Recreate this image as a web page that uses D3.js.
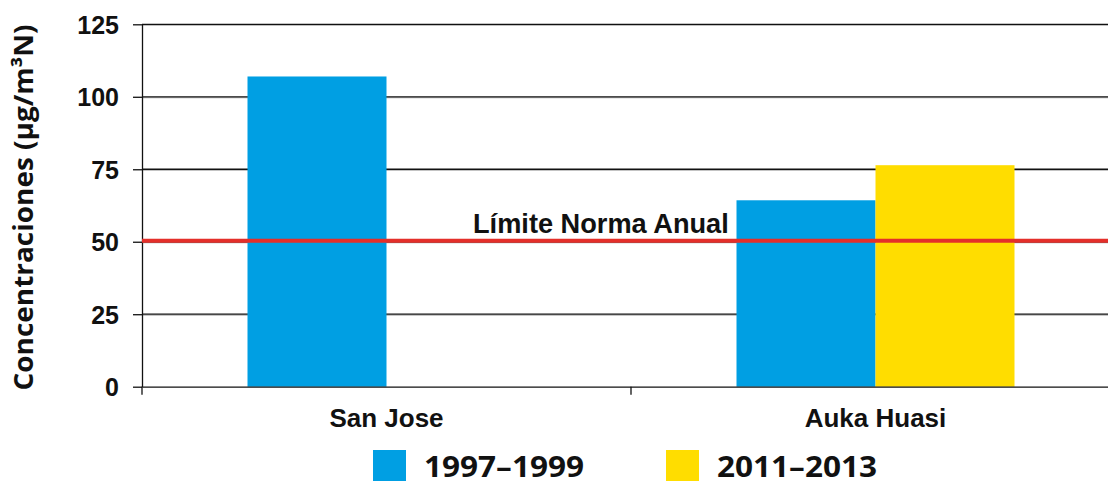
<!DOCTYPE html>
<html>
<head>
<meta charset="utf-8">
<script src="https://cdn.jsdelivr.net/npm/d3@7"></script>
<style>
  body { margin: 0; background: #fff; }
  svg { display: block; }
</style>
</head>
<body>
<svg id="chart" width="1108" height="481"></svg>
<script>
// datos
const categories = ['San Jose', 'Auka Huasi'];
const seriesNames = ['1997–1999', '2011–2013'];
const seriesColors = ['#009fe3', '#ffdd00'];
const values1997 = [107, 64.3];
const values2011 = [null, 76.4];
const yTicks = [0, 25, 50, 75, 100, 125];
const normaAnual = 50;

const width = 1108, height = 481;
const margin = { left: 142, top: 24.3, bottom: 94.3 };
const plotRight = 1120;   // el gráfico continúa fuera del recorte
const arial = '"Liberation Sans", Arial, sans-serif';
const sans = '"Open Sans", Lato, sans-serif';

const svg = d3.select('#chart');

const y = d3.scaleLinear()
  .domain([0, 125])
  .range([height - margin.bottom, margin.top]);

const x = d3.scaleBand()
  .domain(categories)
  .range([margin.left, plotRight])
  .padding(0);

const xs = d3.scaleBand()
  .domain(seriesNames)
  .range([0, x.bandwidth()])
  .paddingInner(0)
  .paddingOuter(0.759);

/************** rejilla ***************/
const grid = svg.append('g');
yTicks.filter(d => d > 0).forEach(d => {
  grid.append('line')
    .attr('x1', margin.left).attr('x2', width)
    .attr('y1', y(d) + 1).attr('y2', y(d) + 1)
    .attr('stroke', '#b0b0b0').attr('stroke-width', 1);
  grid.append('line')
    .attr('x1', margin.left).attr('x2', width)
    .attr('y1', y(d)).attr('y2', y(d))
    .attr('stroke', '#111').attr('stroke-width', 1.3);
});

/************** barras ***************/
const rows = categories.map((c, i) => ({ cat: c, vals: [values1997[i], values2011[i]] }));
const groups = svg.selectAll('g.cat')
  .data(rows)
  .enter().append('g')
  .attr('class', 'cat')
  .attr('transform', d => `translate(${x(d.cat)},0)`);

groups.selectAll('rect')
  .data(d => d.vals.map((v, j) => ({ v: v, s: seriesNames[j], color: seriesColors[j] })).filter(e => e.v != null))
  .enter().append('rect')
  .attr('x', d => xs(d.s))
  .attr('width', xs.bandwidth())
  .attr('y', d => y(d.v))
  .attr('height', d => y(0) - y(d.v))
  .attr('fill', d => d.color);

/************** ejes ***************/
const yAxis = svg.append('g')
  .attr('transform', `translate(${margin.left},0)`)
  .call(d3.axisLeft(y).tickValues(yTicks).tickSize(9).tickPadding(0).tickSizeOuter(0));
yAxis.select('.domain').attr('stroke', '#111').attr('stroke-width', 1.3);
yAxis.selectAll('.tick line').attr('stroke', '#111').attr('stroke-width', 1.3);
yAxis.selectAll('.tick text')
  .attr('x', -23)
  .attr('dy', '0.36em')
  .style('font-family', arial)
  .style('font-weight', 'bold')
  .style('font-size', '25px')
  .attr('fill', '#111');

const xAxis = svg.append('g')
  .attr('transform', `translate(0,${y(0)})`)
  .call(d3.axisBottom(x).tickSize(0).tickPadding(0).tickSizeOuter(0));
xAxis.select('.domain').attr('stroke', '#111').attr('stroke-width', 1.3);
xAxis.selectAll('.tick text').remove();
// marcas entre categorías
const bounds = [margin.left, ...categories.map(c => x(c) + x.bandwidth())];
xAxis.selectAll('line.sep')
  .data(bounds)
  .enter().append('line')
  .attr('class', 'sep')
  .attr('x1', d => d).attr('x2', d => d)
  .attr('y1', 0).attr('y2', 8)
  .attr('stroke', '#111').attr('stroke-width', 1.3);

xAxis.selectAll('text.cat')
  .data(categories)
  .enter().append('text')
  .attr('class', 'cat')
  .attr('x', d => x(d) + x.bandwidth() / 2)
  .attr('y', 40)
  .attr('text-anchor', 'middle')
  .style('font-family', arial)
  .style('font-weight', 'bold')
  .style('font-size', '26px')
  .attr('fill', '#111')
  .text(d => d);

/************** línea de norma ***************/
svg.append('line')
  .attr('x1', margin.left).attr('x2', width)
  .attr('y1', y(normaAnual) - 1).attr('y2', y(normaAnual) - 1)
  .attr('stroke', '#e42f2a').attr('stroke-width', 4);

svg.append('text')
  .attr('x', 473)
  .attr('y', y(normaAnual) - 8.5)
  .style('font-family', arial)
  .style('font-weight', 'bold')
  .style('font-size', '27.2px')
  .attr('fill', '#111')
  .text('Límite Norma Anual');

/************** título eje Y ***************/
svg.append('text')
  .attr('transform', `translate(33,${(y(0) + y(125)) / 2 + 2}) rotate(-90)`)
  .attr('text-anchor', 'middle')
  .style('font-family', sans)
  .style('font-weight', 'bold')
  .style('font-size', '26px')
  .attr('fill', '#111')
  .attr('lengthAdjust', 'spacingAndGlyphs')
  .attr('textLength', 366)
  .text('Concentraciones (µg/m³N)');

/************** leyenda ***************/
const legendX = [373, 666];
const legend = svg.selectAll('g.legend')
  .data(seriesNames)
  .enter().append('g')
  .attr('class', 'legend')
  .attr('transform', (d, i) => `translate(${legendX[i]},450)`);
legend.append('rect')
  .attr('width', 33).attr('height', 31)
  .attr('fill', (d, i) => seriesColors[i]);
legend.append('text')
  .attr('x', 51)
  .attr('y', 27)
  .style('font-family', sans)
  .style('font-weight', 'bold')
  .style('font-size', '28px')
  .attr('fill', '#111')
  .attr('lengthAdjust', 'spacingAndGlyphs')
  .attr('textLength', 160)
  .text(d => d);
</script>
</body>
</html>
